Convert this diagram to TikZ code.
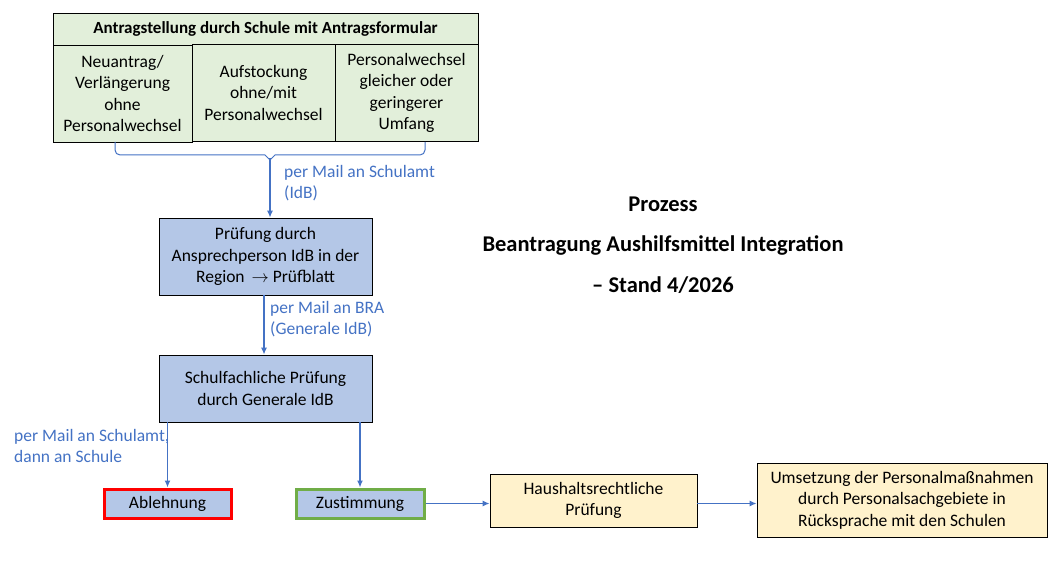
\documentclass[tikz,border=0pt]{standalone}
\usepackage{fontspec}
\setmainfont{Carlito}
\usetikzlibrary{arrows.meta}
\definecolor{gfill}{HTML}{E2EFDA}
\definecolor{bfill}{HTML}{B4C7E7}
\definecolor{cfill}{HTML}{FFF2CC}
\definecolor{lblue}{HTML}{4472C4}
\definecolor{ggreen}{HTML}{70AD47}
\begin{document}
\begin{tikzpicture}[x=1pt,y=-1pt,
  box/.style={draw=black,line width=0.8pt,align=center,inner sep=0pt,font=\fontsize{17.5}{21.5}\selectfont},
  conn/.style={draw=lblue,line width=1.3pt,-{Latex[length=7pt,width=6pt]}},
  lbl/.style={text=lblue,align=left,anchor=north west,inner sep=0pt,font=\fontsize{17.5}{21.5}\selectfont}]
\useasboundingbox (0,0) rectangle (1064,569);
\node[box,fill=gfill,minimum width=425pt,minimum height=32pt,font=\bfseries\fontsize{17}{17}\selectfont] (head) at (265.5,29) {Antragstellung durch Schule mit Antragsformular};
\node[box,fill=gfill,minimum width=139pt,minimum height=97pt] (b1) at (122.5,93.5) {Neuantrag/\\Verlängerung\\ohne\\Personalwechsel};
\node[box,fill=gfill,minimum width=143pt,minimum height=97pt] (b3) at (406.5,93) {Personalwechsel\\gleicher oder\\geringerer\\Umfang};
\node[box,fill=gfill,minimum width=143pt,minimum height=97pt] (b2) at (263.5,92.5) {Aufstockung\\ohne/mit\\Personalwechsel};
\node[box,fill=bfill,minimum width=213pt,minimum height=77pt] (p1) at (265.5,256.5) {Prüfung durch\\Ansprechperson IdB in der\\Region \,$\rightarrow$ Prüfblatt};
\node[box,fill=bfill,minimum width=213pt,minimum height=67pt] (p2) at (265.5,388.5) {Schulfachliche Prüfung\\durch Generale IdB};
\node[box,fill=bfill,draw=red,line width=3pt,minimum width=127pt,minimum height=29pt] (abl) at (167.5,503.5) {Ablehnung};
\node[box,fill=bfill,draw=ggreen,line width=3pt,minimum width=128pt,minimum height=29pt] (zu) at (360,503.5) {Zustimmung};
\node[box,fill=cfill,minimum width=207pt,minimum height=53pt] (hh) at (593.5,500.5) {Haushaltsrechtliche\\Prüfung};
\node[box,fill=cfill,minimum width=290pt,minimum height=74pt] (um) at (902,500) {Umsetzung der Personalmaßnahmen\\durch Personalsachgebiete in\\Rücksprache mit den Schulen};
\node[font=\bfseries\fontsize{22.5}{40.5}\selectfont,align=center] (title) at (663,245) {Prozess\\Beantragung Aushilfsmittel Integration\\– Stand 4/2026};
\coordinate (bl) at (115,142); \coordinate (br) at (425,142);
\draw[lblue,line width=1pt] (bl) -- ++(0,8) arc[start angle=180,end angle=90,radius=5] -- (265,155) -- (270,160) -- (275,155) -- (420,155) arc[start angle=90,end angle=0,radius=5] -- (br);
\coordinate (bc) at (270,158);
\draw[conn] (bc) -- (p1.north -| bc);
\coordinate (a2) at (264,0);
\draw[conn] (p1.south -| a2) -- (p2.north -| a2);
\draw[conn] (p2.south -| abl) -- (abl.north);
\draw[conn] (p2.south -| zu) -- (zu.north);
\draw[conn] (zu.east) -- (zu.east -| hh.west);
\draw[conn] (hh.east |- zu.east) -- (zu.east -| um.west);
\node[lbl] (l1) at (284,165) {per Mail an Schulamt\\(IdB)};
\node[lbl] (l2) at (270,301) {per Mail an BRA\\(Generale IdB)};
\node[lbl] (l3) at (14,429) {per Mail an Schulamt,\\dann an Schule};
\end{tikzpicture}
\end{document}
